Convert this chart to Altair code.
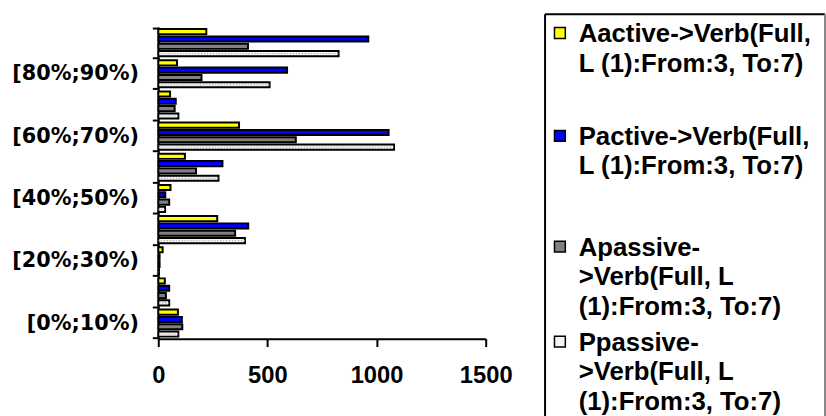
import json

import altair as alt
import pandas as pd

# Share buckets, bottom to top on the chart
ranges = ["[0%;10%)", "[10%;20%)", "[20%;30%)", "[30%;40%)", "[40%;50%)",
          "[50%;60%)", "[60%;70%)", "[70%;80%)", "[80%;90%)", "[90%;100%]"]
# Only every second bucket gets a visible tick label
shown_labels = ["[0%;10%)", "[20%;30%)", "[40%;50%)", "[60%;70%)", "[80%;90%)"]

series = [
    "Aactive->Verb(Full, L (1):From:3, To:7)",
    "Pactive->Verb(Full, L (1):From:3, To:7)",
    "Apassive->Verb(Full, L (1):From:3, To:7)",
    "Ppassive->Verb(Full, L (1):From:3, To:7)",
]
colors = ["#ffff00", "#0000ff", "#808080", "#f4f4f4"]

# Counts per bucket, same order as `ranges`
aactive = [90, 30, 20, 270, 56, 122, 370, 54, 86, 220]
pactive = [108, 50, 6, 412, 32, 294, 1055, 80, 590, 962]
apassive = [110, 35, 6, 352, 50, 173, 630, 75, 198, 411]
ppassive = [92, 50, 3, 397, 31, 276, 1080, 92, 510, 826]

x_ticks = [0, 500, 1000, 1500]

# Legend text, wrapped the way it is printed
legend_lines = [
    ["Aactive->Verb(Full,", "L (1):From:3, To:7)"],
    ["Pactive->Verb(Full,", "L (1):From:3, To:7)"],
    ["Apassive-", ">Verb(Full, L", "(1):From:3, To:7)"],
    ["Ppassive-", ">Verb(Full, L", "(1):From:3, To:7)"],
]

# ---- legend box layout, in pixels measured from the box's top-left ----
LEG_W = 283          # box width
LEG_PANEL_H = 391    # panel height (panel starts level with the plot top)
BOX_RISE = 13        # box top sits this far above the plot top
BOX_H = 420          # box runs past the bottom edge
legend_baselines = [28, 132, 244, 340]
line_step = 30
text_x, symbol_x, symbol_rise = 34, 15, 9

rows = []
for s, vals in zip(series, [aactive, pactive, apassive, ppassive]):
    for r, v in zip(ranges, vals):
        rows.append({"range": r, "series": s, "count": v})
df = pd.DataFrame(rows)

label_expr = (
    f"indexof({json.dumps(shown_labels)}, datum.value) >= 0 ? datum.label : ''"
)

x_enc = alt.X(
    "count:Q",
    scale=alt.Scale(domain=[0, 1500], nice=False),
    axis=alt.Axis(
        values=x_ticks, format="d", title=None, grid=False, labelFlush=False,
        domainColor="black", domainWidth=2,
        tickColor="black", tickWidth=2, tickSize=8,
        labelFont="Liberation Sans", labelFontWeight="bold", labelFontSize=24,
        labelColor="black", labelPadding=17,
    ),
)
y_enc = alt.Y(
    "range:N",
    sort=ranges[::-1],
    scale=alt.Scale(paddingInner=0.06, paddingOuter=0.03),
    axis=alt.Axis(
        title=None, tickBand="extent", labelExpr=label_expr,
        labelFont="DejaVu Sans", labelFontWeight="bold", labelFontSize=21,
        labelColor="black", labelPadding=14,
        tickSize=6, tickWidth=2, tickColor="black",
        domainColor="black", domainWidth=2, grid=False,
    ),
)
y_off = alt.YOffset(
    "series:N", sort=series,
    scale=alt.Scale(paddingInner=0.3, paddingOuter=0.15),
)
bar_color = alt.Color(
    "series:N", scale=alt.Scale(domain=series, range=colors), legend=None
)

bars = alt.Chart(df).mark_bar(stroke="black", strokeWidth=2).encode(
    x=x_enc, y=y_enc, yOffset=y_off, color=bar_color
)

# dotted texture on the light bars
dots = (
    alt.Chart(df)
    .transform_filter(alt.datum.series == series[3])
    .mark_rule(color="#9a9a9a", strokeWidth=1, strokeDash=[1, 2])
    .encode(x=x_enc, x2=alt.datum(0), y=y_enc, yOffset=y_off)
)

plot = alt.layer(bars, dots).properties(width=331, height=315)

# ---- legend panel ----
text_rows, sym_rows = [], []
for i, (s, lines) in enumerate(zip(series, legend_lines)):
    sym_rows.append({"series": s, "x": symbol_x,
                     "y": legend_baselines[i] - symbol_rise})
    for j, t in enumerate(lines):
        text_rows.append({"text": t, "x": text_x,
                          "y": legend_baselines[i] + j * line_step})
text_df = pd.DataFrame(text_rows)
sym_df = pd.DataFrame(sym_rows)
box_df = pd.DataFrame({"x0": [0], "x1": [LEG_W], "y0": [0], "y1": [BOX_H]})

lx = alt.Scale(domain=[0, LEG_W], nice=False, zero=False)
ly = alt.Scale(domain=[BOX_RISE, BOX_RISE + LEG_PANEL_H], nice=False,
               zero=False, reverse=True)

leg_text = alt.Chart(text_df).mark_text(
    align="left", baseline="alphabetic", font="Liberation Sans",
    fontWeight="bold", fontSize=26, color="black",
).encode(
    x=alt.X("x:Q", scale=lx, axis=None),
    y=alt.Y("y:Q", scale=ly, axis=None),
    text="text:N",
)
leg_sym = alt.Chart(sym_df).mark_point(
    shape="square", filled=True, size=120, stroke="black", strokeWidth=1.5,
    opacity=1,
).encode(
    x=alt.X("x:Q", scale=lx, axis=None),
    y=alt.Y("y:Q", scale=ly, axis=None),
    fill=alt.Fill("series:N", scale=alt.Scale(domain=series, range=colors),
                  legend=None),
)
box_left = alt.Chart(box_df).mark_rule(color="black", strokeWidth=2).encode(
    x=alt.X("x0:Q", scale=lx, axis=None),
    y=alt.Y("y0:Q", scale=ly, axis=None), y2="y1:Q",
)
box_top = alt.Chart(box_df).mark_rule(color="black", strokeWidth=2).encode(
    x=alt.X("x0:Q", scale=lx, axis=None), x2="x1:Q",
    y=alt.Y("y0:Q", scale=ly, axis=None),
)
box_right = alt.Chart(box_df).mark_rule(color="#888888", strokeWidth=2).encode(
    x=alt.X("x1:Q", scale=lx, axis=None),
    y=alt.Y("y0:Q", scale=ly, axis=None), y2="y1:Q",
)

legend_panel = alt.layer(box_left, box_top, box_right, leg_sym, leg_text).properties(
    width=LEG_W, height=LEG_PANEL_H
)

chart = (
    alt.hconcat(plot, legend_panel, spacing=32)
    .resolve_scale(x="independent", y="independent", color="independent")
    .properties(
        padding={"left": 11, "top": 10, "right": 0, "bottom": 0},
        background="white",
    )
    .configure_view(stroke=None)
)

chart.save("out.html", embed_options={"renderer": "svg", "actions": False})
